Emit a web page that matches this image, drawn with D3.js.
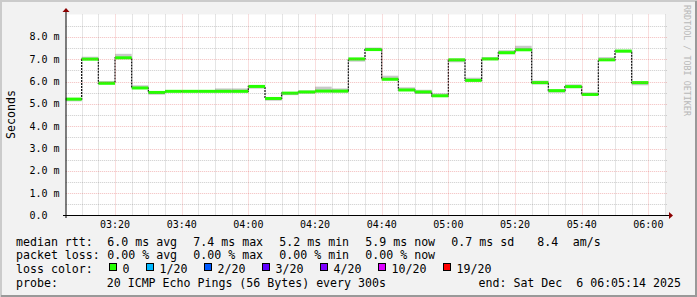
<!DOCTYPE html>
<html>
<head>
<meta charset="utf-8">
<script src="https://cdn.jsdelivr.net/npm/d3@7"></script>
<style>
  html, body { margin: 0; padding: 0; background: #f2f2f2; }
  svg { display: block; }
  text { font-family: "DejaVu Sans Mono", monospace; fill: #000; white-space: pre; }
</style>
</head>
<body>
<svg id="chart" width="697" height="297"></svg>
<script>
// 5 minute steps (UTC, start of step) and the pings seen in each
const steps = ["03:05","03:10","03:15","03:20","03:25","03:30","03:35","03:40","03:45","03:50",
  "03:55","04:00","04:05","04:10","04:15","04:20","04:25","04:30","04:35","04:40",
  "04:45","04:50","04:55","05:00","05:05","05:10","05:15","05:20","05:25","05:30",
  "05:35","05:40","05:45","05:50","05:55","06:00"];
const median = [5.21, 7.00, 5.92, 7.06, 5.71, 5.51, 5.56, 5.56, 5.56, 5.56,
  5.56, 5.78, 5.24, 5.48, 5.53, 5.57, 5.57, 7.01, 7.43, 6.10,
  5.62, 5.53, 5.36, 6.97, 6.05, 7.01, 7.29, 7.42, 5.95, 5.59,
  5.77, 5.42, 6.97, 7.36, 5.95, null];
const smokeLo = [5.11, 6.97, 5.88, 7.02, 5.68, 5.41, 5.52, 5.52, 5.52, 5.52,
  5.52, 5.68, 5.14, 5.39, 5.47, 5.52, 5.50, 6.89, 7.38, 6.06,
  5.58, 5.44, 5.31, 6.86, 6.00, 6.96, 7.22, 7.37, 5.87, 5.50,
  5.70, 5.36, 6.92, 7.30, 5.83, null];
const smokeHi = [5.27, 7.11, 6.02, 7.24, 5.83, 5.55, 5.60, 5.60, 5.60, 5.69,
  5.69, 5.82, 5.30, 5.52, 5.60, 5.77, 5.69, 7.06, 7.52, 6.26,
  5.74, 5.63, 5.47, 7.02, 6.17, 7.09, 7.40, 7.60, 6.04, 5.64,
  5.87, 5.51, 7.09, 7.42, 6.00, null];

const yTicks = [0, 1, 2, 3, 4, 5, 6, 7, 8];
const yTickLabels = ["0.0", "1.0 m", "2.0 m", "3.0 m", "4.0 m", "5.0 m", "6.0 m", "7.0 m", "8.0 m"];

const rttStats = ["6.0 ms avg", "7.4 ms max", "5.2 ms min", "5.9 ms now", "0.7 ms sd", "8.4", "am/s"];
const lossStats = ["0.00 % avg", "0.00 % max", "0.00 % min", "0.00 % now"];
const lossLabels = ["0", "1/20", "2/20", "3/20", "4/20", "10/20", "19/20"];
const lossColors = ["#26ff00", "#00b8ff", "#0059ff", "#5e00ff", "#7e00ff", "#dd00ff", "#ff0000"];

const t0 = new Date(Date.UTC(2025, 11, 6, 3, 5, 14));
const t1 = new Date(Date.UTC(2025, 11, 6, 6, 5, 14));
const parseStep = d3.utcParse("%Y-%m-%d %H:%M");

const svg = d3.select("#chart");
const W = 697, H = 297;
const plotL = 65.8, plotR = 665.8, plotT = 14.5, plotB = 215.5;

const x = d3.scaleUtc().domain([t0, t1]).range([plotL, plotR]);
const y = d3.scaleLinear().domain([0, 9]).range([plotB, plotT]);
const px = v => Math.round(v) + 0.5;

// frame
svg.append("rect").attr("width", W).attr("height", H).attr("fill", "#f2f2f2");
svg.append("path").attr("d", `M1,${H} V1 H${W}`).attr("stroke", "#cbcbcb").attr("stroke-width", 2).attr("fill", "none");
svg.append("path").attr("d", `M1,${H - 1} H${W - 1} V1`).attr("stroke", "#999").attr("stroke-width", 2).attr("fill", "none");
svg.append("rect").attr("x", plotL).attr("y", plotT).attr("width", plotR - plotL).attr("height", plotB - plotT).attr("fill", "#fff");

// data: one segment per step, clipped to the window
const data = steps.map((s, i) => {
  const a = parseStep("2025-12-06 " + s);
  return { a: a < t0 ? t0 : a, b: d3.utcMinute.offset(a, 5), m: median[i], lo: smokeLo[i], hi: smokeHi[i] };
}).filter(d => d.m != null);

const plot = svg.append("g");
plot.selectAll("rect.smoke").data(data).enter().append("rect").attr("class", "smoke")
  .attr("x", d => x(d.a)).attr("width", d => x(d.b) - x(d.a))
  .attr("y", d => y(d.hi)).attr("height", d => y(d.lo) - y(d.hi))
  .attr("fill", "#c8c8c8");

const stepLine = d3.line().curve(d3.curveStepAfter).x(d => x(d[0])).y(d => y(d[1]));
const pts = data.map(d => [d.a, d.m]);
pts.push([data[data.length - 1].b, data[data.length - 1].m]);
plot.append("path").attr("d", stepLine(pts)).attr("fill", "none")
  .attr("stroke", "#000").attr("stroke-width", 1.2).attr("stroke-dasharray", "2,1");

plot.selectAll("rect.med").data(data).enter().append("rect").attr("class", "med")
  .attr("x", d => x(d.a)).attr("width", d => x(d.b) - x(d.a))
  .attr("y", d => y(d.m) - 1.5).attr("height", 3)
  .attr("fill", lossColors[0]);

// grid on top of the data
const grid = svg.append("g").attr("fill", "none").attr("stroke-width", 1).attr("stroke-dasharray", "1,1");
const minorY = d3.range(0.5, 9.01, 1);
grid.selectAll("line.hmin").data(minorY).enter().append("line")
  .attr("x1", plotL).attr("x2", plotR + 1).attr("y1", d => px(y(d))).attr("y2", d => px(y(d)))
  .attr("stroke", "rgba(128,128,128,0.4)");
const minorX = d3.utcMinute.every(5).range(t0, t1).filter(t => t.getUTCMinutes() % 20 !== 0);
grid.selectAll("line.vmin").data(minorX).enter().append("line")
  .attr("x1", d => px(x(d))).attr("x2", d => px(x(d))).attr("y1", plotT).attr("y2", plotB)
  .attr("stroke", "rgba(128,128,128,0.4)");
grid.selectAll("line.hmaj").data(yTicks.slice(1)).enter().append("line")
  .attr("x1", plotL).attr("x2", plotR + 1).attr("y1", d => px(y(d))).attr("y2", d => px(y(d)))
  .attr("stroke", "rgba(225,90,90,0.4)");
const majorX = d3.utcMinute.every(20).range(t0, t1);
grid.selectAll("line.vmaj").data(majorX).enter().append("line")
  .attr("x1", d => px(x(d))).attr("x2", d => px(x(d))).attr("y1", plotT).attr("y2", plotB)
  .attr("stroke", "rgba(225,90,90,0.4)");

// axes
const axY = px(plotB - 0.5);
svg.append("line").attr("x1", 63).attr("x2", 669).attr("y1", axY).attr("y2", axY).attr("stroke", "#000");
svg.append("line").attr("x1", 66).attr("x2", 66).attr("y1", 218).attr("y2", 11).attr("stroke", "#000");
svg.append("path").attr("d", `M669,${axY - 3.5} L673,${axY} L669,${axY + 3.5} Z`).attr("fill", "#8b0000");
svg.append("path").attr("d", "M62.5,12 L66,8 L69.5,12 Z").attr("fill", "#8b0000");

// tick labels
svg.append("g").selectAll("text").data(yTicks).enter().append("text")
  .attr("x", 29.5).attr("y", d => y(d) + 3.6).style("font-size", "10px")
  .text((d, i) => yTickLabels[i]);
svg.append("g").selectAll("text").data(majorX).enter().append("text")
  .attr("x", d => x(d)).attr("y", 227.5).attr("text-anchor", "middle").style("font-size", "10px")
  .text(d3.utcFormat("%H:%M"));

svg.append("text").attr("transform", "translate(14.5,114.5) rotate(-90)")
  .attr("text-anchor", "middle").style("font-size", "11.6px").text("Seconds");

svg.append("text").attr("transform", "translate(684,5) rotate(90)")
  .style("font-size", "8.4px").style("fill", "#b8b8b8").text("RRDTOOL / TOBI OETIKER");

// legend
const fs = "11.6px", cw = 7.0;
const leg = svg.append("g").style("font-size", fs);
leg.append("text").attr("x", 16).attr("y", 245.5).text("median rtt:");
leg.selectAll("text.rtt").data(rttStats).enter().append("text").attr("class", "rtt")
  .attr("x", (d, i) => i < 6 ? 107.3 + 86 * i : 572.7).attr("y", 245.5).text(d => d);
leg.append("text").attr("x", 16).attr("y", 259.3).text("packet loss:");
leg.selectAll("text.loss").data(lossStats).enter().append("text").attr("class", "loss")
  .attr("x", (d, i) => 107.3 + 86 * i).attr("y", 259.3).text(d => d);
leg.append("text").attr("x", 16).attr("y", 273).text("loss color:");
let bx = 108.5;
lossLabels.forEach((l, i) => {
  leg.append("rect").attr("x", Math.round(bx) + 0.5).attr("y", 263.5).attr("width", 7).attr("height", 7)
    .attr("fill", lossColors[i]).attr("stroke", "#000");
  leg.append("text").attr("x", bx + 14).attr("y", 273).text(l);
  bx += 14 + l.length * cw + 16;
});
leg.append("text").attr("x", 16).attr("y", 286.8).text("probe:       20 ICMP Echo Pings (56 Bytes) every 300s");
leg.append("text").attr("x", 478.5).attr("y", 286.8).text("end: Sat Dec  6 06:05:14 2025");
</script>
</body>
</html>
